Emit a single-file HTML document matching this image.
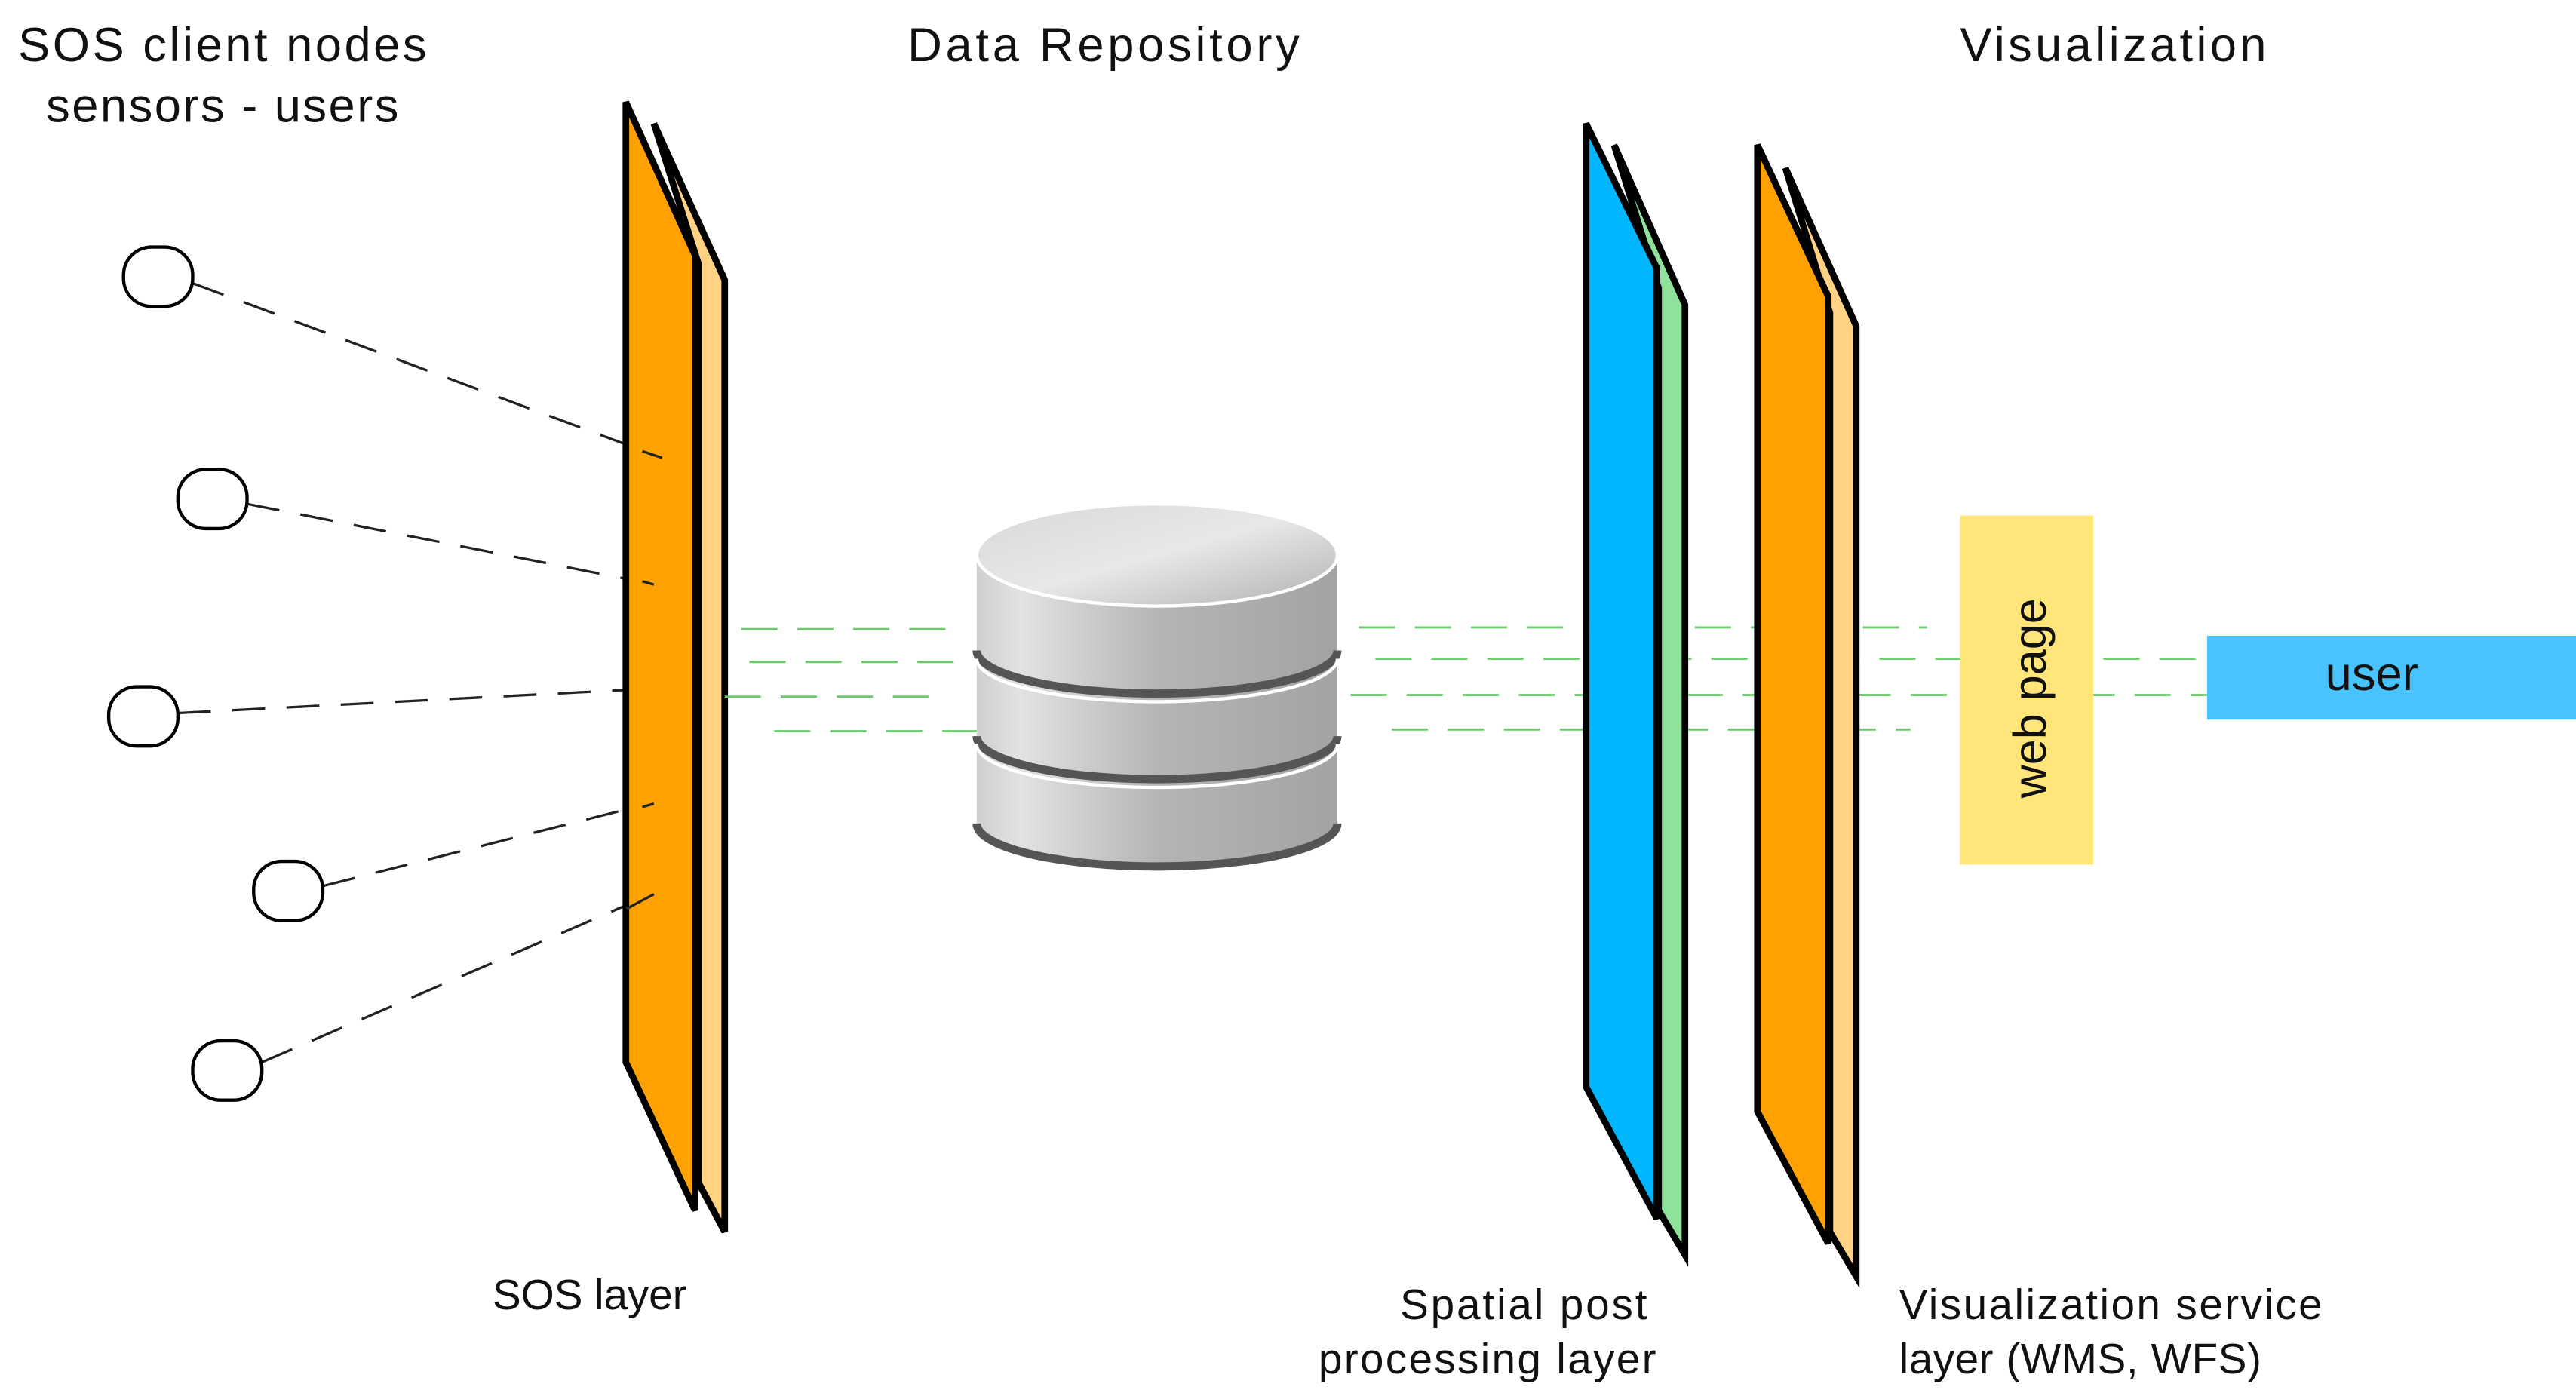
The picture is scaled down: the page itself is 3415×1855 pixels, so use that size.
<!DOCTYPE html>
<html><head><meta charset="utf-8"><style>
html,body{margin:0;padding:0;background:#fff;}
svg{display:block;}
text{font-family:"Liberation Sans",sans-serif;fill:#111;}
</style></head><body>
<svg width="3415" height="1855" viewBox="0 0 1564 849.5" preserveAspectRatio="none" xmlns="http://www.w3.org/2000/svg">
<defs>
<linearGradient id="cg" x1="0" x2="1" y1="0" y2="0">
<stop offset="0" stop-color="#cfcfcf"/><stop offset="0.12" stop-color="#e2e2e2"/><stop offset="0.5" stop-color="#b5b5b5"/><stop offset="1" stop-color="#a3a3a3"/>
</linearGradient>
<linearGradient id="tg" x1="0" x2="1" y1="0" y2="1">
<stop offset="0" stop-color="#d8d8d8"/><stop offset="0.5" stop-color="#e8e8e8"/><stop offset="1" stop-color="#b0b0b0"/>
</linearGradient>
</defs>
<text x="135" y="37" font-size="29" text-anchor="middle" textLength="248">SOS client nodes</text>
<text x="135" y="74" font-size="29" text-anchor="middle" textLength="214">sensors - users</text>
<text x="670" y="37" font-size="29" text-anchor="middle" textLength="238">Data Repository</text>
<text x="1283" y="37" font-size="29" text-anchor="middle" textLength="186">Visualization</text>

<g stroke="#222" stroke-width="1.5" stroke-dasharray="20,13" fill="none">
<line x1="117" y1="172" x2="402" y2="278"/>
<line x1="150" y1="306" x2="398" y2="355"/>
<line x1="108" y1="433" x2="398" y2="418"/>
<line x1="196" y1="538" x2="398" y2="487"/>
<line x1="159" y1="645" x2="398" y2="542"/>
</g>
<g stroke="#000" stroke-width="2" fill="#fff">
<rect x="75" y="150" width="42" height="36" rx="17"/>
<rect x="108" y="285" width="42" height="36" rx="17"/>
<rect x="66" y="417" width="42" height="36" rx="17"/>
<rect x="154" y="523" width="42" height="36" rx="17"/>
<rect x="117" y="632" width="42" height="36" rx="17"/>
</g>

<g stroke="#000" stroke-width="4" stroke-linejoin="miter">
<polygon points="397,75 440,170 440,748 424,718 424,160" fill="#ffd383"/>
<polygon points="380,62 422,155 422,735 380,645" fill="#ffa100"/>
</g>
<g stroke="#222" stroke-width="1.5" fill="none">
<line x1="390" y1="274" x2="402" y2="278"/>
<line x1="390" y1="353" x2="397" y2="355"/>
<line x1="390" y1="490" x2="397" y2="488"/>
<line x1="380" y1="552" x2="397" y2="543"/>
</g>

<g stroke="#6cc96c" stroke-width="1.3" stroke-dasharray="22,12" fill="none">
<line x1="450" y1="382" x2="575" y2="382"/>
<line x1="455" y1="402" x2="590" y2="402"/>
<line x1="440" y1="423" x2="575" y2="423"/>
<line x1="470" y1="444" x2="595" y2="444"/>
<line x1="825" y1="381" x2="1170" y2="381"/>
<line x1="835" y1="400" x2="1335" y2="400"/>
<line x1="820" y1="422" x2="1340" y2="422"/>
<line x1="845" y1="443" x2="1160" y2="443"/>
</g>

<path d="M593,340 L593,500 A109,26 0 0 0 812,500 L812,340 Z" fill="url(#cg)"/>
<path d="M593,500 A109,26 0 0 0 812,500" fill="none" stroke="#555" stroke-width="5"/>
<path d="M593,395 A109,26 0 0 0 812,395" fill="none" stroke="#555" stroke-width="5"/>
<path d="M593,400 A109,26 0 0 0 812,400" fill="none" stroke="#fff" stroke-width="2"/>
<path d="M593,447 A109,26 0 0 0 812,447" fill="none" stroke="#555" stroke-width="5"/>
<path d="M593,452 A109,26 0 0 0 812,452" fill="none" stroke="#fff" stroke-width="2"/>
<ellipse cx="702.5" cy="337" rx="109.5" ry="31" fill="url(#tg)" stroke="#fff" stroke-width="2"/>

<g stroke="#000" stroke-width="4">
<polygon points="980,88 1023,185 1023,762 1007,735 1007,175" fill="#8ee29a"/>
<polygon points="963,75 1006,163 1006,740 963,660" fill="#00b6ff"/>
<polygon points="1084,102 1127,198 1127,775 1111,748 1111,190" fill="#ffd383"/>
<polygon points="1067,88 1110,180 1110,755 1067,675" fill="#ffa100"/>
</g>

<rect x="1190" y="313" width="81" height="212" fill="#ffe57a"/>
<text transform="translate(1242,424) rotate(-90)" font-size="28" text-anchor="middle">web page</text>
<rect x="1340" y="386" width="224" height="51" fill="#49c3fd"/>
<text x="1440" y="419" font-size="29" text-anchor="middle">user</text>

<text x="358" y="795" font-size="26" text-anchor="middle" textLength="118">SOS layer</text>
<text x="925" y="801" font-size="26" text-anchor="middle" textLength="150">Spatial post</text>
<text x="903" y="834" font-size="26" text-anchor="middle" textLength="205">processing layer</text>
<text x="1153" y="801" font-size="26" textLength="257">Visualization service</text>
<text x="1153" y="834" font-size="26" textLength="220">layer (WMS, WFS)</text>
</svg>
</body></html>
